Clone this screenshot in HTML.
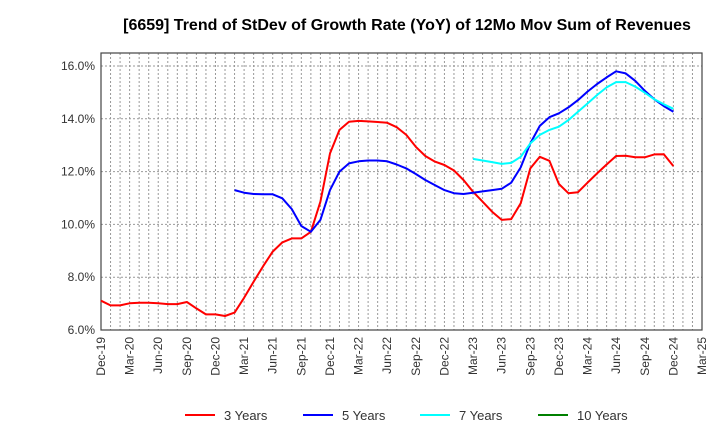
<!DOCTYPE html>
<html><head><meta charset="utf-8"><style>
body{margin:0;background:#fff;font-family:"Liberation Sans",Arial,sans-serif}
svg text{font-family:"Liberation Sans",Arial,sans-serif}
</style></head><body>
<svg id="chart" width="720" height="440">
<text x="407" y="30" text-anchor="middle" font-size="16" font-weight="bold" fill="#000">[6659]  Trend of StDev of Growth Rate (YoY) of 12Mo Mov Sum of Revenues</text>
<g id="grid"></g><g id="axes"></g><g id="series"></g><g id="legend"></g>
</svg>
<script>
const xTickLabels=["Dec-19","Mar-20","Jun-20","Sep-20","Dec-20","Mar-21","Jun-21","Sep-21","Dec-21","Mar-22","Jun-22","Sep-22","Dec-22","Mar-23","Jun-23","Sep-23","Dec-23","Mar-24","Jun-24","Sep-24","Dec-24","Mar-25"];
const yTicks=[6,8,10,12,14,16];
const years3=[7.11,6.93,6.93,7.01,7.03,7.03,7.01,6.98,6.98,7.06,6.82,6.59,6.59,6.53,6.66,7.22,7.83,8.42,8.97,9.32,9.47,9.47,9.72,10.86,12.69,13.58,13.89,13.92,13.90,13.88,13.85,13.68,13.39,12.94,12.59,12.38,12.25,12.04,11.68,11.24,10.86,10.48,10.17,10.2,10.80,12.12,12.56,12.41,11.53,11.18,11.22,11.58,11.93,12.27,12.59,12.6,12.54,12.54,12.65,12.66,12.21];
const years5Start=14;
const years5=[11.30,11.2,11.15,11.14,11.14,10.99,10.58,9.94,9.72,10.17,11.30,12.0,12.31,12.39,12.42,12.42,12.39,12.27,12.12,11.91,11.68,11.49,11.30,11.18,11.15,11.2,11.25,11.30,11.35,11.58,12.16,13.07,13.73,14.06,14.21,14.43,14.71,15.03,15.32,15.57,15.80,15.72,15.44,15.06,14.74,14.48,14.27];
const years7Start=39;
const years7=[12.48,12.42,12.36,12.29,12.33,12.56,13.07,13.39,13.58,13.70,13.95,14.27,14.58,14.90,15.19,15.39,15.39,15.22,14.99,14.74,14.55,14.38];
const years10=[];
const L=101,R=702,T=53,B=330,months=63;
const xS=m=>L+(R-L)*m/months;
const yS=v=>B-(v-6)*(B-66)/10;
const NS="http://www.w3.org/2000/svg";
function mk(tag,attrs,parent){const e=document.createElementNS(NS,tag);for(const k in attrs)e.setAttribute(k,attrs[k]);parent.appendChild(e);return e;}
const grid=document.getElementById('grid'),axes=document.getElementById('axes'),series=document.getElementById('series'),legend=document.getElementById('legend');
for(let m=1;m<months;m++){const g=mk('line',{x1:xS(m),x2:xS(m),y1:T,y2:B,stroke:'#999','stroke-dasharray':'2,2','stroke-width':1},grid);

}
yTicks.forEach(v=>{if(v>6){const g=mk('line',{x1:L,x2:R,y1:yS(v),y2:yS(v),stroke:'#999','stroke-dasharray':'2,2','stroke-width':1},grid);

}
const t=mk('text',{x:L-6,y:yS(v)+4,'text-anchor':'end','font-size':12,fill:'#333'},axes);t.textContent=v.toFixed(1)+'%';

});
const box=mk('rect',{x:L,y:T,width:R-L,height:B-T,fill:'none',stroke:'#444','stroke-width':1.2},axes);


xTickLabels.forEach((s,i)=>{const x=xS(i*3);const t=mk('text',{x:0,y:0,'text-anchor':'end','font-size':12,fill:'#333',transform:`translate(${x+4},${B+7}) rotate(-90)`},axes);t.textContent=s;

});
function line(data,start,color,name){if(!data.length)return;const p=data.map((v,i)=>xS(start+i).toFixed(1)+','+yS(v).toFixed(1)).join(' ');
const e=mk('polyline',{points:p,fill:'none',stroke:color,'stroke-width':2,'stroke-linejoin':'round'},series);

}
line(years3,0,'#ff0000','line-3-years');
line(years5,years5Start,'#0000ff','line-5-years');
line(years7,years7Start,'#00ffff','line-7-years');
line(years10,0,'#008000','line-10-years');
const leg=[["3 Years","#ff0000",185],["5 Years","#0000ff",303],["7 Years","#00ffff",420],["10 Years","#008000",538]];
leg.forEach(([n,c,x])=>{const g=mk('g',{},legend);


mk('line',{x1:x,x2:x+30,y1:415,y2:415,stroke:c,'stroke-width':2},g);
const t=mk('text',{x:x+39,y:420,'font-size':13,fill:'#333'},g);t.textContent=n;});
</script>
</body></html>
